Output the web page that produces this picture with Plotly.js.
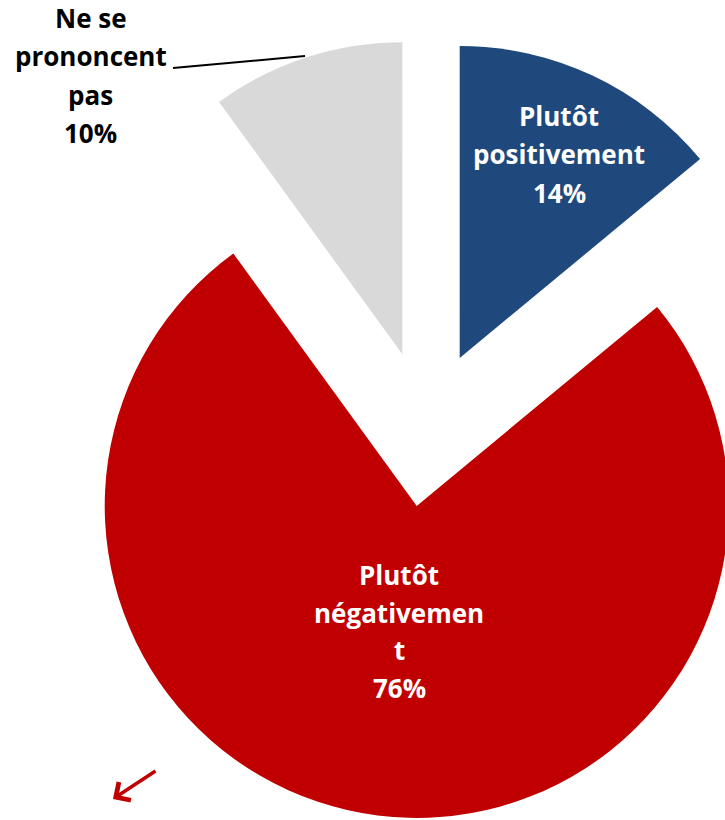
<!DOCTYPE html>
<html>
<head>
<meta charset="utf-8">
<script src="https://cdn.plot.ly/plotly-3.0.1.min.js"></script>
<style>
  html, body { margin: 0; padding: 0; width: 725px; height: 820px; overflow: hidden; background: #ffffff; }
  #chart { width: 820px; height: 820px; }
</style>
</head>
<body>
<div id="chart"></div>
<script>
// ---- data ----
const labels = ["Plutôt positivement", "Plutôt négativement", "Ne se prononcent pas"];
const values = [14, 76, 10];
const labelLines = [["Plutôt", "positivement"], ["Plutôt", "négativemen", "t"], ["Ne se", "prononcent", "pas"]];
const sliceColors = ["#1F497D", "#C00000", "#D9D9D9"];

// ---- layout helpers (pixel positions inside an 820x820 figure) ----
const W = 820, H = 820;
const px = x => x / W;
const py = y => 1 - y / H;
const labelBoxes = [
  { cx: 559, base: 126, pitch: 38.5, color: "#FFFFFF" },
  { cx: 399, base: 585, pitch: 37.7, color: "#FFFFFF" },
  { cx: 90.5, base: 28, pitch: 38.5, color: "#000000" }
];
const fontSize = 26;

const annotations = [];
labels.forEach((lab, i) => {
  const lines = labelLines[i].concat([values[i] + "%"]);
  const b = labelBoxes[i];
  lines.forEach((ln, k) => {
    annotations.push({
      xref: "paper", yref: "paper",
      x: px(b.cx), y: py(b.base + k * b.pitch - 0.388 * fontSize),
      xanchor: "center", yanchor: "middle",
      text: "<b>" + ln + "</b>",
      showarrow: false,
      font: { family: "'Open Sans', Lato, sans-serif", size: fontSize, color: b.color }
    });
  });
});
// red decorative arrow bottom-left
annotations.push({
  xref: "paper", yref: "paper",
  x: px(113), y: py(799),
  ax: 44, ay: -29, axref: "pixel", ayref: "pixel",
  text: "", showarrow: true,
  arrowhead: 4, arrowsize: 1.2, arrowwidth: 3.5, arrowcolor: "#C00000", standoff: 0
});

const trace = {
  type: "pie",
  labels: labels,
  values: values,
  sort: false,
  direction: "clockwise",
  rotation: 0,
  pull: [0.25, 0.25, 0.25],
  marker: { colors: sliceColors, line: { width: 0 } },
  textinfo: "none",
  hoverinfo: "label+percent",
  domain: { x: [px(426.5 - 390), px(426.5 + 390)], y: [py(428.5 + 390), py(428.5 - 390)] }
};

const layout = {
  width: W, height: H,
  margin: { l: 0, r: 0, t: 0, b: 0 },
  paper_bgcolor: "#FFFFFF",
  plot_bgcolor: "#FFFFFF",
  showlegend: false,
  annotations: annotations,
  shapes: [{
    type: "line", xref: "paper", yref: "paper",
    x0: px(173), y0: py(68), x1: px(305), y1: py(56),
    line: { color: "#000000", width: 2 }
  }]
};

Plotly.newPlot("chart", [trace], layout, { staticPlot: true, displayModeBar: false });
</script>
</body>
</html>
